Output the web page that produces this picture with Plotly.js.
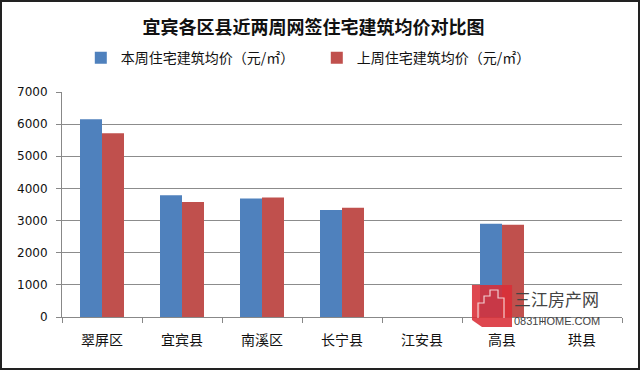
<!DOCTYPE html>
<html><head><meta charset="utf-8">
<script src="https://cdn.plot.ly/plotly-3.0.1.min.js"></script>
<style>
html,body{margin:0;padding:0;background:#fff;}
#wrap{position:relative;width:640px;height:370px;}
#chart{width:640px;height:370px;}
#frame{position:absolute;left:0;top:0;width:640px;height:370px;box-sizing:border-box;border:2px solid #222;pointer-events:none;}
</style></head>
<body><div id="wrap"><div id="chart"></div><div id="frame"></div></div>
<script>
const categories = ['翠屏区','宜宾县','南溪区','长宁县','江安县','高县','珙县'];
const thisWeek = [6150, 3790, 3690, 3330, null, 2900, null];
const lastWeek = [5720, 3580, 3720, 3400, null, 2870, null];
const seriesNames = ['本周住宅建筑均价（元/㎡）','上周住宅建筑均价（元/㎡）'];
const yTicks = [0,1000,2000,3000,4000,5000,6000,7000];

const cjk = '"Noto Sans CJK SC", sans-serif';
// watermark helper: pixel -> paper coords (plot area 62..622 x, 92..317 y)
const px = v => ((v - 62) / 560).toFixed(4);
const py = v => ((317 - v) / 225).toFixed(4);
const P = pts => 'M ' + pts.map(p => px(p[0]) + ' ' + py(p[1])).join(' L ');

const data = [
  {type:'bar', x:categories, y:thisWeek, name:seriesNames[0], marker:{color:'#4F81BD'}},
  {type:'bar', x:categories, y:lastWeek, name:seriesNames[1], marker:{color:'#C0504D'}}
];
const layout = {
  width:640, height:370,
  margin:{l:62, r:18, t:92, b:53},
  paper_bgcolor:'#fff', plot_bgcolor:'#fff',
  barmode:'group', bargap:0.45, bargroupgap:0,
  title:{text:'宜宾各区县近两周网签住宅建筑均价对比图', font:{family:cjk, size:18, color:'#111', weight:'bold'}, x:0.49, xanchor:'center', y:0.925, yanchor:'middle'},
  showlegend:true,
  legend:{orientation:'h', x:0.455, xanchor:'center', y:1.151, yanchor:'middle', font:{family:cjk, size:14, color:'#111'}, entrywidth:191, itemwidth:30},
  xaxis:{type:'category', tickson:'boundaries', ticks:'outside', ticklen:5, tickcolor:'#888', showline:true, linecolor:'#888', linewidth:1, showgrid:false, ticklabelstandoff:10, tickfont:{family:cjk, size:14, color:'#111'}},
  yaxis:{range:[0,7000], tickvals:yTicks, ticktext:yTicks.map(String), ticks:'outside', ticklen:5, tickcolor:'#888', showline:true, linecolor:'#888', gridcolor:'#8c8c8c', gridwidth:1, zeroline:false, ticklabelstandoff:6, tickfont:{family:'"DejaVu Sans", sans-serif', size:12, color:'#111'}},
  shapes:[
    {type:'path', xref:'paper', yref:'paper', path:P([[472,285],[512,285],[512,327],[482,327],[472,320]]) + ' Z', fillcolor:'rgba(218,45,55,0.88)', line:{width:0}},
    {type:'path', xref:'paper', yref:'paper', path:P([[478,318],[478,303],[484,303],[484,296],[490,296],[490,290],[498,290],[498,298],[504,298],[504,318]]), line:{color:'rgba(255,255,255,0.75)', width:1.2}}
  ],
  annotations:[
    {xref:'paper', yref:'paper', x:0.804, y:0.084, xanchor:'left', yanchor:'middle', text:'三江房产网', showarrow:false, font:{family:cjk, size:17, color:'#444'}},
    {xref:'paper', yref:'paper', x:0.804, y:-0.018, xanchor:'left', yanchor:'middle', text:'0831HOME.COM', showarrow:false, font:{family:'"Liberation Sans", sans-serif', size:11, color:'#444'}}
  ]
};
Plotly.newPlot('chart', data, layout, {displayModeBar:false, staticPlot:true});
</script></body></html>
